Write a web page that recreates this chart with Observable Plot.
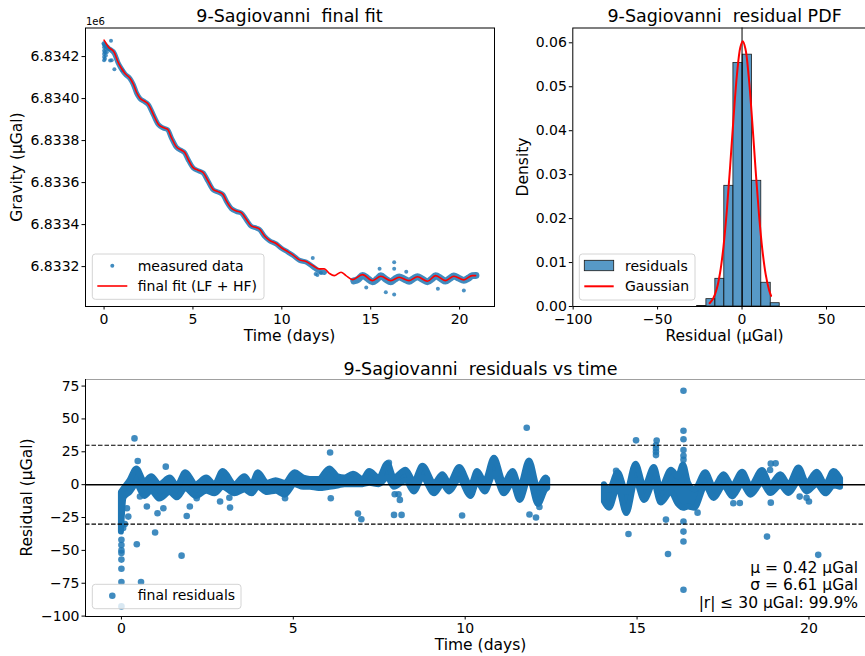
<!DOCTYPE html>
<html><head><meta charset="utf-8">
<script src="https://cdn.jsdelivr.net/npm/d3@7"></script>
<script src="https://cdn.jsdelivr.net/npm/@observablehq/plot@0.6"></script>
<style>
html,body{margin:0;padding:0;background:#fff;overflow:hidden}
#root{position:relative;width:865px;height:656px;overflow:hidden;background:#fff;font-family:"DejaVu Sans",sans-serif}
#root svg{position:absolute}
</style></head><body><div id="root"></div>
<script>
// ---------------- Panel 1: gravity vs time ----------------
const fitT = [0,0.24,0.58,0.8,0.95,1.18,1.46,1.65,1.83,2.02,2.3,2.49,2.77,3.05,3.33,3.57,3.79,4.07,4.36,4.54,4.73,5.01,5.29,5.57,5.85,6.13,6.41,6.69,6.88,7.16,7.44,7.72,8.0,8.28,8.56,8.75,9.03,9.31,9.68,9.96,10.34,10.62,10.99,11.36,11.74,12.11,12.39,12.67,12.95,13.33,13.61,13.98,14.54,15.1,15.57,16.13,16.6,17.16,17.63,18.19,18.65,19.21,19.68,20.24,20.71,20.9];
const fitG = [6834278,6834246,6834219,6834171,6834148,6834119,6834097,6834068,6834029,6834002,6833986,6833973,6833925,6833878,6833862,6833854,6833814,6833770,6833754,6833743,6833711,6833671,6833659,6833648,6833608,6833568,6833557,6833544,6833513,6833478,6833465,6833457,6833425,6833394,6833386,6833378,6833346,6833325,6833310,6833291,6833271,6833256,6833232,6833224,6833205,6833189,6833189,6833168,6833157,6833173,6833157,6833138,6833162,6833133,6833154,6833133,6833149,6833133,6833152,6833130,6833157,6833133,6833154,6833137,6833157,6833157];
const measT1 = [0,0.24,0.58,0.8,0.95,1.18,1.46,1.65,1.83,2.02,2.3,2.49,2.77,3.05,3.33,3.57,3.79,4.07,4.36,4.54,4.73,5.01,5.29,5.57,5.85,6.13,6.41,6.69,6.88,7.16,7.44,7.72,8.0,8.28,8.56,8.75,9.03,9.31,9.68,9.96,10.34,10.62,10.99,11.36,11.74,12.11,12.4];
const measG1 = [6834262,6834240,6834215,6834168,6834145,6834117,6834095,6834066,6834026,6834000,6833984,6833971,6833923,6833876,6833860,6833852,6833812,6833768,6833752,6833741,6833709,6833670,6833657,6833646,6833606,6833566,6833555,6833542,6833511,6833476,6833463,6833455,6833423,6833392,6833384,6833376,6833344,6833323,6833308,6833289,6833269,6833254,6833230,6833222,6833200,6833178,6833172];
const measT2 = [14.05,14.3,14.54,14.8,15.1,15.35,15.57,15.85,16.13,16.35,16.6,16.9,17.16,17.4,17.63,17.9,18.19,18.45,18.65,18.95,19.21,19.45,19.68,19.95,20.24,20.5,20.71,20.92];
const measG2 = [6833132,6833140,6833158,6833145,6833128,6833140,6833156,6833140,6833128,6833140,6833150,6833140,6833130,6833142,6833152,6833140,6833128,6833142,6833157,6833143,6833131,6833143,6833155,6833145,6833135,6833145,6833157,6833158];
const measOutT = [0,0,0,0,0,0,0.05,0.05,0.05,0.1,0.1,0.15,0.2,0.3,0.34,0.39,0.43,0.58,1.03,11.74,11.9,12.0,12.2,14.75,15.5,15.85,16.32,16.32,16.32,17.0,18.78,20.24];
const measOutG = [6834182,6834198,6834212,6834228,6834244,6834258,6834190,6834220,6834250,6834205,6834235,6834220,6834245,6834235,6834181,6834275,6834182,6834140,6834135,6833241,6833165,6833160,6833170,6833100,6833190,6833078,6833067,6833221,6833190,6833175,6833095,6833086];
const gravityTicks = [6833200,6833400,6833600,6833800,6834000,6834200];
const dayTicks = [0,5,10,15,20];

// ---------------- Panel 2: residual PDF ----------------
const binEdges = [-26.6,-21.1,-15.8,-10.5,-5.1,0.4,5.9,11.4,17.0,22.3];
const binDensity = [0.0001,0.00167,0.0063,0.02746,0.0554,0.0573,0.0286,0.0054,0.00075];
const gaussX = [-19.2,-17,-15,-13,-11,-9,-7,-5,-3,-1,0.42,2,4,6,8,10,12,14,16,17.2];
const gaussY = [0.00074,0.00187,0.00397,0.00768,0.01357,0.02186,0.03214,0.04312,0.05279,0.05897,0.06035,0.05865,0.05212,0.04226,0.03127,0.02111,0.01301,0.00731,0.00375,0.00241];
const pdfXTicks = [-100,-50,0,50];
const densityTicks = [0,0.01,0.02,0.03,0.04,0.05,0.06];

// ---------------- Panel 3: residuals vs time ----------------
const bandT  = [0.0,0.08,0.25,0.45,0.68,0.88,1.12,1.42,1.63,1.87,2.18,2.48,2.72,2.96,3.3,3.59,3.8,3.98,4.25,4.5,4.76,5.05,5.3,5.5,5.75,6.06,6.3,6.5,6.75,7.03,7.22,7.5,7.75,7.94,8.28,8.52,8.77,9.11,9.35,9.55,9.84,10.17,10.36,10.58,10.85,11.14,11.39,11.6,11.87,12.13,12.35,12.4,
                14.05,14.2,14.45,14.7,14.97,15.22,15.5,15.7,16.0,16.2,16.35,16.5,16.68,17.0,17.24,17.53,17.78,18.07,18.31,18.65,18.89,19.18,19.42,19.71,19.95,20.24,20.49,20.73,20.92];
const bandLo = [-36,-10,-6,0,-9,-5,-11,-6,-10,-3,-9,-5,-7,-2,-7,-4,-7,-2,-6,-5,-8,0,-2,-2,-3,-2,-1,0,0,0,1,0,5,-2,3,-5.5,5,-7,0,-5.5,4,-9,2,-5.5,8,-7,1,-12,5,-15,-4,-3,
                -13,-18,-2,-22,3,-12,1,-14,-6,-15,-18,-17,-18,-1,-10.5,-1,-9.3,0,-8,1,-6.8,-1,-6.8,2,-5.5,0,-7,-1,-2];
const bandHi = [-6,-3,3,12,2,6,0,5,-1,9,0,5,0,10,0,6,0,9,1,3,1,9,5,4,4,12,6,5,8,4,10,5,16,5,11,2,14,1,7.5,1,13,-1,10,2,20,1,10,-2,18,-3,5,4,
                0,-4,9,-6,15.5,-2,13,-3,11,6,15,1,-4,9,-2,7.5,-1,9.4,-1,10.7,0,7.5,0,12.7,1,9.4,0,10,4.5];
const outT = [0,0,0,0,0,0,0,0,0.05,0.1,0.38,0.475,1.29,0.447,0.98,0.57,1.75,1.05,0.2,0.16,0.74,1.22,1.9,1.99,2.19,2.87,3.16,3.14,0.54,
              4.76,6.07,6.09,6.88,6.98,7.93,8.15,7.78,7.95,8.06,8.1,9.91,11.79,11.87,12.06,12.16,
              14.39,14.75,14.97,15.57,15.55,15.55,15.55,15.55,15.84,15.9,16.35,16.35,16.35,16.35,16.35,16.35,16.35,16.35,16.35,16.35,
              16.76,18.78,20.27,18.89,19.03,18.87,17.8,17.99,18.89,19.73,20.0,19.93];
const outR = [-42,-46,-50,-52,-57,-64,-74,-92.6,-33,-30,35.2,18,13.7,-45.3,-36.4,-74.1,-54,-21.7,-24.3,-17.9,-16.6,-17.9,-23.8,-16.6,-10.3,-12.8,-17.4,-10,-9,
              -10.3,24.5,-10.3,-22,-26.3,-23,-23,16.7,-7.3,-7.3,-11.6,-23.5,43.3,-22.7,-25,-17,
              10.6,-37.5,33.7,33.5,30,27.5,25,22.5,-26.6,-52.8,71.4,41,34.5,26.4,22,19,-28,-35.7,-43.3,-80,
              -21.3,-39.5,-53.4,16,16.2,11.2,-14.2,-13.9,-13.7,-9.1,-12.8,-10];
const residTicks = [-100,-75,-50,-25,0,25,50,75];
const limitLines = [-30,30];
const statLines = ["μ = 0.42 µGal","σ = 6.61 µGal","|r| ≤ 30 µGal: 99.9%"];

// ---------------- build rows ----------------
const BLUE = "#1f77b4";
const fitRows = fitT.map((t,i)=>({t, g:fitG[i]}));
const meas1 = measT1.map((t,i)=>({t, g:measG1[i]}));
const meas2 = measT2.map((t,i)=>({t, g:measG2[i]}));
const measOut = measOutT.map((t,i)=>({t, g:measOutG[i]}));
const bins = binDensity.map((d,i)=>({x0:binEdges[i], x1:binEdges[i+1], d}));
const gauss = gaussX.map((x,i)=>({x, y:gaussY[i]}));
const band = bandT.map((t,i)=>({t, lo:bandLo[i], hi:bandHi[i], seg: t<13?"a":"b"}));
const outs = outT.map((t,i)=>({t, r:outR[i]}));

const root = document.getElementById("root");
const baseStyle = {fontFamily:"DejaVu Sans", fontSize:"14px", background:"transparent", overflow:"visible", color:"#000"};
function place(svg, left, top){ svg.style.position="absolute"; svg.style.left=left+"px"; svg.style.top=top+"px"; svg.style.maxWidth="none"; root.appendChild(svg); }

// Panel 1
const p1 = Plot.plot({
  width:500, height:350, marginLeft:85, marginRight:6, marginTop:27.5, marginBottom:44,
  style: baseStyle,
  x:{domain:[-1.045,21.965]},
  y:{domain:[6833010,6834336]},
  marks:[
    Plot.line(meas1,{x:"t",y:"g",stroke:BLUE,strokeOpacity:0.85,strokeWidth:5,curve:"monotone-x",strokeLinecap:"round"}),
    Plot.line(meas2,{x:"t",y:"g",stroke:BLUE,strokeOpacity:0.85,strokeWidth:7,curve:"monotone-x",strokeLinecap:"round"}),
    Plot.dot(measOut,{x:"t",y:"g",r:2,fill:BLUE,fillOpacity:0.8}),
    Plot.line(fitRows,{x:"t",y:"g",stroke:"#ff0000",strokeWidth:1.6,curve:"monotone-x"}),
    Plot.frame({stroke:"#000"}),
    Plot.axisX({ticks:dayTicks, tickSize:3.5, tickPadding:4, label:null, tickFormat:d3.format("d")}),
    Plot.axisY({ticks:gravityTicks, tickSize:3.5, tickPadding:2.5, label:null, tickFormat:d=>(d/1e6).toFixed(4)})
  ]
});
place(p1,0,0);

// Panel 2
const p2 = Plot.plot({
  width:440, height:350, marginLeft:132.3, marginRight:3, marginTop:27.5, marginBottom:44,
  style: baseStyle,
  x:{domain:[-100.2,80.2]},
  y:{domain:[0,0.06337]},
  marks:[
    Plot.rectY(bins,{x1:"x0",x2:"x1",y:"d",fill:BLUE,fillOpacity:0.75,stroke:"#1a1a1a",strokeWidth:0.8,inset:0}),
    Plot.ruleX([0],{stroke:"#000",strokeWidth:1}),
    Plot.line(gauss,{x:"x",y:"y",stroke:"#ff0000",strokeWidth:2,curve:"catmull-rom"}),
    Plot.frame({stroke:"#000"}),
    Plot.axisX({ticks:pdfXTicks, tickSize:3.5, tickPadding:4, label:null, tickFormat:d3.format("d")}),
    Plot.axisY({ticks:densityTicks, tickSize:3.5, tickPadding:2.5, label:null, tickFormat:d3.format(".2f")})
  ]
});
place(p2,440,0);

// Panel 3
const p3 = Plot.plot({
  width:880, height:306, marginLeft:85, marginRight:4, marginTop:29, marginBottom:40,
  style: baseStyle,
  x:{domain:[-1.045,21.965]},
  y:{domain:[-100.3,80]},
  marks:[
    Plot.areaY(band,{x:"t",y1:"lo",y2:"hi",z:"seg",fill:BLUE,stroke:BLUE,strokeWidth:6,strokeLinejoin:"round",curve:"monotone-x"}),
    Plot.dot(outs,{x:"t",y:"r",r:3.3,fill:BLUE,fillOpacity:0.85}),
    Plot.ruleY([0],{stroke:"#000",strokeWidth:1.5}),
    Plot.ruleY(limitLines,{stroke:"#000",strokeWidth:1.1,strokeDasharray:"4.5,2"}),
    Plot.ruleY([80],{stroke:"#a0a0a0",strokeWidth:1}),
    Plot.ruleY([-100.3],{stroke:"#000",strokeWidth:1}),
    Plot.ruleX([-1.045],{stroke:"#000",strokeWidth:1}),
    Plot.axisX({ticks:dayTicks, tickSize:3.5, tickPadding:3, label:null, tickFormat:d3.format("d")}),
    Plot.axisY({ticks:residTicks, tickSize:3.5, tickPadding:2.5, label:null, tickFormat:d3.format("d")})
  ]
});
place(p3,0,350);

// ---------------- overlay: titles, labels, legends, stats ----------------
const ov = d3.select(root).append("svg").attr("width",865).attr("height",656)
  .style("position","absolute").style("left","0px").style("top","0px")
  .style("font-family","DejaVu Sans");
function txt(x,y,s,size,anchor="middle",rot=0){
  const t = ov.append("text").attr("x",x).attr("y",y).attr("font-size",size).attr("text-anchor",anchor)
    .attr("fill","#000").style("white-space","pre").attr("xml:space","preserve").text(s);
  if(rot) t.attr("transform",`rotate(${rot},${x},${y})`);
  return t;
}
txt(289.5,22,"9-Sagiovanni  final fit",17.5);
txt(724.6,22,"9-Sagiovanni  residual PDF",17.5);
txt(480.5,374.5,"9-Sagiovanni  residuals vs time",17.5);
txt(289.5,341,"Time (days)",15.5);
txt(724.6,341,"Residual (µGal)",15.5);
txt(480.5,650,"Time (days)",15.5);
txt(22,167,"Gravity (µGal)",15.5,"middle",-90);
txt(528,167,"Density",15.5,"middle",-90);
txt(32,497.5,"Residual (µGal)",15.5,"middle",-90);
txt(86,25,"1e6",10,"start");
statLines.forEach((s,i)=>txt(858,572.5+i*17.5,s,15.5,"end"));

// legends
function box(x,y,w,h){ ov.append("rect").attr("x",x).attr("y",y).attr("width",w).attr("height",h).attr("rx",3)
  .attr("fill","#fff").attr("fill-opacity",0.8).attr("stroke","#d4d4d4").attr("stroke-width",1); }
box(92.3,254,171.7,45.3);
ov.append("circle").attr("cx",112.3).attr("cy",265.7).attr("r",2).attr("fill",BLUE).attr("fill-opacity",0.85);
txt(137.7,270.5,"measured data",14,"start");
ov.append("line").attr("x1",97.3).attr("x2",127.3).attr("y1",286).attr("y2",286).attr("stroke","#ff0000").attr("stroke-width",1.6);
txt(137.7,290.5,"final fit (LF + HF)",14,"start");

box(579.3,254,115.7,46);
ov.append("rect").attr("x",584.3).attr("y",260.3).attr("width",29.4).attr("height",10.4).attr("fill",BLUE).attr("fill-opacity",0.75).attr("stroke","#1a1a1a").attr("stroke-width",0.8);
txt(625,270.5,"residuals",14,"start");
ov.append("line").attr("x1",584.3).attr("x2",613.7).attr("y1",286.3).attr("y2",286.3).attr("stroke","#ff0000").attr("stroke-width",2);
txt(625,290.5,"Gaussian",14,"start");

box(92.3,584.3,148.7,24.4);
ov.append("circle").attr("cx",112.3).attr("cy",595.7).attr("r",3.3).attr("fill",BLUE).attr("fill-opacity",0.85);
txt(137.7,600,"final residuals",14,"start");
</script>
</body></html>
